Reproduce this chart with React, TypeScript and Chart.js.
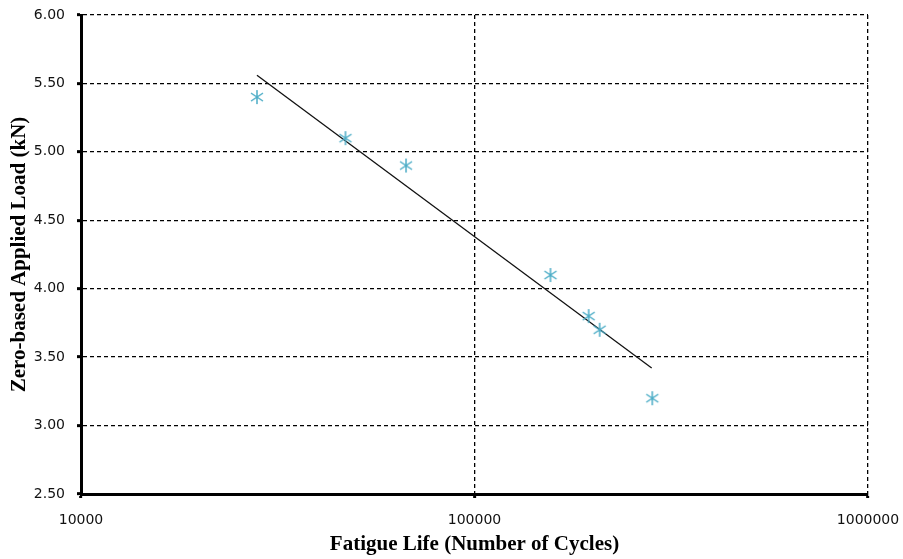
import React, { useEffect, useRef } from "react";
import { Chart, registerables } from "chart.js";

Chart.register(...registerables);

const cycles = [28000, 47000, 67000, 156000, 195000, 208000, 283000];
const loads = [5.4, 5.1, 4.9, 4.1, 3.8, 3.7, 3.2];
const trendCycles = [28000, 282000];
const trendLoads = [5.56, 3.42];
const xTicks = [10000, 100000, 1000000];

function makeMarker(): HTMLCanvasElement {
  const c = document.createElement("canvas");
  const s = 16;
  c.width = s;
  c.height = s;
  const ctx = c.getContext("2d")!;
  ctx.strokeStyle = "#4bacc6";
  ctx.lineWidth = 1.5;
  ctx.beginPath();
  ctx.moveTo(8, 1);
  ctx.lineTo(8, 15);
  ctx.moveTo(2, 4);
  ctx.lineTo(14, 12);
  ctx.moveTo(14, 4);
  ctx.lineTo(2, 12);
  ctx.stroke();
  return c;
}

export default function App() {
  const ref = useRef<HTMLCanvasElement>(null);
  useEffect(() => {
    document.body.style.margin = "0";
    const marker = makeMarker();
    const chart = new Chart(ref.current!, {
      type: "scatter",
      data: {
        datasets: [
          {
            label: "Data",
            data: cycles.map((x, i) => ({ x, y: loads[i] })),
            pointStyle: marker as any,
            pointRadius: 8,
            showLine: false,
          },
          {
            label: "Trend",
            data: trendCycles.map((x, i) => ({ x, y: trendLoads[i] })),
            showLine: true,
            borderColor: "#111",
            borderWidth: 1.3,
            pointRadius: 0,
          },
        ],
      },
      options: {
        animation: false,
        responsive: false,
        layout: { padding: { left: 0, right: 35, top: 15, bottom: 0 } },
        plugins: { legend: { display: false }, tooltip: { enabled: false } },
        scales: {
          x: {
            type: "logarithmic",
            min: 10000,
            max: 1000000,
            afterBuildTicks: (scale: any) => {
              scale.ticks = xTicks.map((v) => ({ value: v }));
            },
            afterFit: (scale: any) => {
              scale.height = 65;
              scale.paddingLeft = 0;
              scale.paddingRight = 0;
            },
            ticks: {
              autoSkip: false,
              maxRotation: 0,
              padding: 14,
              color: "#111",
              font: { family: "'DejaVu Sans', sans-serif", size: 14 },
              callback: (v: any) => String(v),
            },
            grid: {
              color: "#000",
              lineWidth: 1.3,
              tickLength: 4,
              tickWidth: 3,
              tickColor: "#000",
            } as any,
            border: { display: true, color: "#000", width: 3, dash: [4, 3] } as any,
            title: {
              display: true,
              text: "Fatigue Life (Number of Cycles)",
              color: "#000",
              font: { family: "'Liberation Serif', serif", size: 21, weight: "bold" },
              padding: { top: 0, bottom: 2 },
            },
          },
          y: {
            min: 2.5,
            max: 6.0,
            afterFit: (scale: any) => {
              scale.width = 81;
              scale.paddingTop = 0;
              scale.paddingBottom = 0;
            },
            ticks: {
              stepSize: 0.5,
              padding: 12,
              color: "#111",
              font: { family: "'DejaVu Sans', sans-serif", size: 14 },
              callback: (v: any) => Number(v).toFixed(2),
            },
            grid: {
              color: "#000",
              lineWidth: 1.3,
              tickLength: 4,
              tickWidth: 3,
              tickColor: "#000",
            } as any,
            border: { display: true, color: "#000", width: 3, dash: [4, 3] } as any,
            title: {
              display: true,
              text: "Zero-based Applied Load (kN)",
              color: "#000",
              font: { family: "'Liberation Serif', serif", size: 21, weight: "bold" },
              padding: { top: 7, bottom: 0 },
            },
          },
        },
      },
    });
    return () => chart.destroy();
  }, []);
  return <canvas ref={ref} width={903} height={559} style={{ display: "block" }} />;
}
